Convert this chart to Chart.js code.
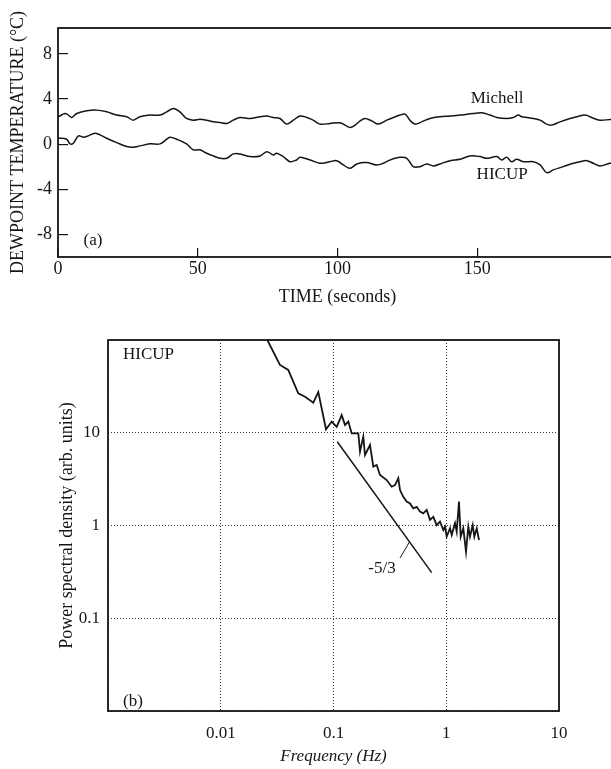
<!DOCTYPE html>
<html>
<head>
<meta charset="utf-8">
<script src="https://cdn.jsdelivr.net/npm/chart.js@4.4.0/dist/chart.umd.min.js"></script>
<style>
html,body{margin:0;padding:0;background:#fff;width:611px;height:769px;overflow:hidden;}
#topBox{position:absolute;left:0;top:0;width:620px;height:312px;}
#bottomBox{position:absolute;left:0;top:320px;width:611px;height:449px;}
</style>
</head>
<body>
<div id="topBox"><canvas id="timeChart"></canvas></div>
<div id="bottomBox"><canvas id="psdChart"></canvas></div>
<script>
// (a) dewpoint time series
const michellTime = [0.1,2.5,3.7,4.9,6.7,10.3,13.8,17.4,21,24.6,26.9,29.3,32.9,36.5,38.9,41.3,43.6,46,48.4,50.8,53.2,55.6,58,60.4,62.7,65.1,68.7,72.3,74.7,77,79.4,81.8,84.2,86.6,89,91.3,93.7,97.3,100.9,102.7,104.5,106.3,108.1,109.8,112.2,114.6,117.6,120,122.4,124.2,125.9,127.7,130.1,133.1,136.7,140.3,143.8,148.6,151.6,154.6,157,160.5,162.9,164.7,165.9,167.7,170.1,172.5,174.8,176.6,179.6,183.2,185.6,188.6,190.9,193.9,197.5,200];
const michellDew = [2.43,2.72,2.58,2.37,2.72,2.96,3.02,2.87,2.58,2.43,2.13,2.43,2.58,2.58,2.87,3.17,2.87,2.28,2.13,2.22,2.13,1.98,1.92,1.84,2.13,2.37,2.28,2.43,2.49,2.37,2.28,1.78,2.13,2.5,2.37,2.13,1.78,1.84,1.90,1.69,1.48,1.69,2.07,2.28,2.07,1.78,2.13,2.37,2.58,2.66,2.13,1.78,1.98,2.28,2.43,2.49,2.58,2.72,2.78,2.58,2.37,2.28,2.37,2.58,2.43,2.37,2.28,2.13,1.78,1.69,1.98,2.28,2.43,2.58,2.37,2.13,2.19,2.2];

const hicupTime = [0.1,3.1,4.3,5.5,7.3,9.1,10.8,13.2,15,17.4,21,24.6,26.9,29.3,32.9,36.5,38.9,40.1,42.5,46,48.4,50.8,53.2,55.6,58,60.4,62.7,65.1,68.7,72.3,74.7,77,78.2,80.6,83,85.3,86.6,90.2,93.7,97.3,99.7,102.1,104.5,106.9,110.4,114,116.4,118.8,122.4,124.8,127.1,129.5,131.9,134.3,136.7,140.3,143.8,147.4,151,153.4,157,158.7,160.5,162.3,164.1,166.5,170.1,172.5,174.8,177.2,180.8,184.4,186.8,189.2,191.5,193.9,197.5,200];
const hicupDew = [0.53,0.44,0.03,0.09,0.74,0.62,0.74,0.98,0.83,0.53,0.14,-0.21,-0.27,-0.15,0.03,0.03,0.44,0.62,0.44,0.03,-0.5,-0.5,-0.8,-1.04,-1.25,-1.25,-0.86,-0.86,-1.1,-1.04,-0.66,-0.95,-0.8,-1.1,-1.55,-1.4,-1.16,-1.4,-1.69,-1.55,-1.46,-1.84,-2.14,-1.75,-1.63,-1.84,-1.69,-1.4,-1.16,-1.25,-1.99,-1.99,-1.75,-1.93,-1.75,-1.46,-1.34,-1.04,-1.1,-1.25,-1.1,-1.4,-1.16,-1.55,-1.34,-1.55,-1.55,-1.84,-2.52,-2.28,-1.99,-1.69,-1.55,-1.46,-1.69,-1.93,-1.69,-1.7];

const timeTicks = [0,50,100,150];
const dewTicks = [-8,-4,0,4,8];

// (b) HICUP power spectrum
const freq = [0.0259,0.0335,0.0397,0.0487,0.0559,0.0662,0.0733,0.0858,0.0964,0.1067,0.1182,0.1265,0.1353,0.145,0.166,0.1718,0.1837,0.1903,0.2108,0.2254,0.2416,0.2585,0.2963,0.3282,0.351,0.3756,0.3889,0.4159,0.4458,0.4771,0.5104,0.5468,0.585,0.6258,0.671,0.7177,0.7676,0.8228,0.8804,0.9415,0.975,1.009,1.080,1.118,1.196,1.238,1.297,1.343,1.417,1.497,1.569,1.624,1.716,1.774,1.863,1.952];
const psd = [100,53.8,47.5,26.6,24.5,21.1,27.5,10.9,13.2,11.6,15.5,12.1,13.2,9.86,9.86,6.25,9.07,5.76,7.38,4.31,4.49,3.50,3.09,2.62,2.73,3.23,2.41,2.04,1.81,1.73,1.53,1.59,1.41,1.35,1.47,1.15,1.24,1.01,1.10,0.894,0.971,0.757,0.933,0.790,1.06,0.858,1.81,0.757,0.933,0.522,0.971,0.757,1.01,0.757,0.933,0.698];

const slopeFreq = [0.108,0.743];
const slopePsd = [8.01,0.31];
const leaderFreq = [0.389,0.47];
const leaderPsd = [0.446,0.66];

const freqTicks = [0.001,0.01,0.1,1,10];
const freqTickLabels = ["","0.01","0.1","1","10"];
const psdTicks = [0.01,0.1,1,10,100];
const psdTickLabels = ["","0.1","1","10",""];

const ink = "#151515";
const serif = "'Liberation Serif', 'Times New Roman', serif";

Chart.defaults.font.family = serif;
Chart.defaults.color = ink;

function points(xs, ys){
    return xs.map((x,i) => ({x:x, y:ys[i]}));
}

function textPlugin(items){
    return {
        id:"textLabels",
        afterDatasetsDraw(chart){
            const ctx = chart.ctx;
            ctx.save();
            ctx.fillStyle = ink;
            ctx.textBaseline = "middle";
            items.forEach(item => {
                ctx.font = item.font;
                ctx.textAlign = item.align;
                ctx.fillText(
                    item.text,
                    chart.scales.x.getPixelForValue(item.x),
                    chart.scales.y.getPixelForValue(item.y)
                );
            });
            ctx.restore();
        }
    };
}

const framePlugin = {
    id:"frame",
    afterDraw(chart){
        const a = chart.chartArea;
        const ctx = chart.ctx;
        ctx.save();
        ctx.strokeStyle = ink;
        ctx.lineWidth = 1.8;
        ctx.strokeRect(a.left, a.top, a.right - a.left, a.bottom - a.top);
        ctx.restore();
    }
};

function setTicks(values){
    return scale => {
        scale.ticks = values.map(v => ({value:v}));
    };
}

function renderTimeChart(){
    new Chart(
        document.getElementById("timeChart"),
        {
            type:"line",
            data:{
                datasets:[
                    {
                        label:"Michell",
                        data:points(michellTime, michellDew),
                        borderColor:ink,
                        borderWidth:1.5,
                        pointRadius:0,
                        tension:0.35
                    },
                    {
                        label:"HICUP",
                        data:points(hicupTime, hicupDew),
                        borderColor:ink,
                        borderWidth:1.5,
                        pointRadius:0,
                        tension:0.35
                    }
                ]
            },
            options:{
                responsive:true,
                maintainAspectRatio:false,
                animation:false,
                layout:{padding:{left:0,top:28,right:3,bottom:0}},
                plugins:{legend:{display:false},tooltip:{enabled:false}},
                scales:{
                    x:{
                        type:"linear",
                        min:0,
                        max:200,
                        afterBuildTicks:setTicks(timeTicks),
                        afterFit:s => { s.height = 55; },
                        border:{display:false},
                        grid:{drawOnChartArea:false,tickLength:-9,color:ink,lineWidth:1.2},
                        ticks:{padding:10,maxRotation:0,font:{size:18}},
                        title:{display:true,text:"TIME (seconds)",font:{size:18},padding:{top:0,bottom:4}}
                    },
                    y:{
                        min:-10,
                        max:10.3,
                        afterBuildTicks:setTicks(dewTicks),
                        afterFit:s => { s.width = 58; },
                        border:{display:false},
                        grid:{drawOnChartArea:false,tickLength:-10,color:ink,lineWidth:1.2},
                        ticks:{padding:16,font:{size:18}},
                        title:{display:true,text:"DEWPOINT TEMPERATURE (°C)",font:{size:18},padding:{top:7,bottom:0}}
                    }
                }
            },
            plugins:[
                framePlugin,
                textPlugin([
                    {text:"Michell",x:157.1,y:4.07,align:"center",font:"17px " + serif},
                    {text:"HICUP",x:158.9,y:-2.73,align:"center",font:"17px " + serif},
                    {text:"(a)",x:12.5,y:-8.5,align:"center",font:"17px " + serif}
                ])
            ]
        }
    );
}

function renderPsdChart(){
    new Chart(
        document.getElementById("psdChart"),
        {
            type:"line",
            data:{
                datasets:[
                    {
                        label:"HICUP",
                        data:points(freq, psd),
                        borderColor:ink,
                        borderWidth:1.8,
                        pointRadius:0,
                        tension:0
                    },
                    {
                        label:"-5/3",
                        data:points(slopeFreq, slopePsd),
                        borderColor:ink,
                        borderWidth:1.5,
                        pointRadius:0
                    },
                    {
                        label:"leader",
                        data:points(leaderFreq, leaderPsd),
                        borderColor:ink,
                        borderWidth:1,
                        pointRadius:0
                    }
                ]
            },
            options:{
                responsive:true,
                maintainAspectRatio:false,
                animation:false,
                layout:{padding:{left:46,top:20,right:52,bottom:0}},
                plugins:{legend:{display:false},tooltip:{enabled:false}},
                scales:{
                    x:{
                        type:"logarithmic",
                        min:0.001,
                        max:10,
                        afterBuildTicks:setTicks(freqTicks),
                        afterFit:s => { s.height = 58; },
                        border:{display:false,dash:[1,2]},
                        grid:{drawTicks:false,color:"#333",lineWidth:1},
                        ticks:{padding:12,maxRotation:0,autoSkip:false,font:{size:17},
                            callback:(v,i) => freqTickLabels[i]},
                        title:{display:true,text:"Frequency (Hz)",font:{size:17,style:"italic"},padding:{top:0,bottom:2}}
                    },
                    y:{
                        type:"logarithmic",
                        min:0.01,
                        max:100,
                        afterBuildTicks:setTicks(psdTicks),
                        afterFit:s => { s.width = 62; },
                        border:{display:false,dash:[1,2]},
                        grid:{drawTicks:false,color:"#333",lineWidth:1},
                        ticks:{padding:8,autoSkip:false,font:{size:17},
                            callback:(v,i) => psdTickLabels[i]},
                        title:{display:true,text:"Power spectral density (arb. units)",font:{size:18},padding:{top:10,bottom:0}}
                    }
                }
            },
            plugins:[
                framePlugin,
                textPlugin([
                    {text:"HICUP",x:0.00136,y:68.9,align:"left",font:"17px " + serif},
                    {text:"(b)",x:0.00136,y:0.0128,align:"left",font:"17px " + serif},
                    {text:"-5/3",x:0.269,y:0.345,align:"center",font:"17px " + serif}
                ])
            ]
        }
    );
}

renderTimeChart();
renderPsdChart();
</script>
</body>
</html>
